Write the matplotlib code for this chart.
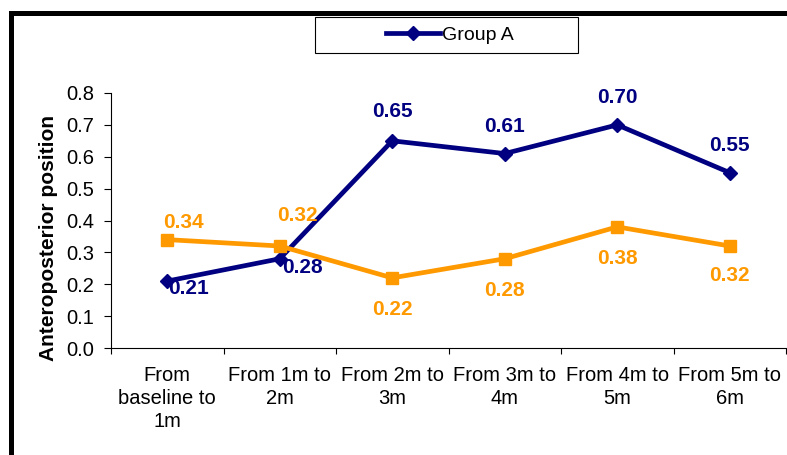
import matplotlib
matplotlib.use("Agg")
import matplotlib.pyplot as plt
from matplotlib.patches import Rectangle

plt.rcParams['font.family'] = ['Liberation Sans', 'DejaVu Sans']

# dados do gráfico
categorias = ["From\nbaseline to\n1m", "From 1m to\n2m", "From 2m to\n3m",
              "From 3m to\n4m", "From 4m to\n5m", "From 5m to\n6m"]
grupo_a = [0.21, 0.28, 0.65, 0.61, 0.70, 0.55]
grupo_b = [0.34, 0.32, 0.22, 0.28, 0.38, 0.32]
rotulo_y = "Anteroposterior position"

# deslocamento dos rótulos (pontos)
desloc_a = [(15, -5), (16, -6), (0, 21), (0, 19.5), (0, 20), (0, 19.5)]
desloc_b = [(12, 12), (13, 22), (0, -23), (0, -22.5), (0, -22.5), (0, -21.5)]

azul = "#000080"
laranja = "#FF9900"

fig = plt.figure(figsize=(7.87, 4.55), dpi=100)
ax = fig.add_axes([111 / 787, 1 - 348 / 455, 675 / 787, 255 / 455])

x = list(range(len(categorias)))
ax.plot(x, grupo_a, color=azul, lw=3.4, marker='D', ms=7, label="Group A", zorder=3)
ax.plot(x, grupo_b, color=laranja, lw=3.4, marker='s', ms=9, zorder=4)

for xi, v, d in zip(x, grupo_a, desloc_a):
    ax.annotate(f"{v:.2f}", (xi, v), xytext=d, textcoords="offset points",
                ha='center', va='center', color=azul, fontsize=15, fontweight='bold')
for xi, v, d in zip(x, grupo_b, desloc_b):
    ax.annotate(f"{v:.2f}", (xi, v), xytext=d, textcoords="offset points",
                ha='center', va='center', color=laranja, fontsize=15, fontweight='bold')

# eixos
ax.set_xlim(-0.5, len(categorias) - 0.5)
ax.set_ylim(0, 0.8)
ax.set_yticks([i / 10 for i in range(9)])
ax.set_yticklabels([f"{i / 10:.1f}" for i in range(9)], fontsize=14.5)
ax.set_xticks(x)
ax.set_xticklabels(categorias, fontsize=14.5, va='top', linespacing=1.25)
ax.set_xticks([i - 0.5 for i in range(len(categorias) + 1)], minor=True)
ax.tick_params(axis='x', which='major', length=0, pad=13)
ax.tick_params(axis='x', which='minor', length=4, width=0.8, direction='out')
ax.tick_params(axis='y', length=5, width=0.8, direction='out', pad=7)
for lado in ['top', 'right']:
    ax.spines[lado].set_visible(False)
for lado in ['left', 'bottom']:
    ax.spines[lado].set_linewidth(0.8)

ax.set_ylabel(rotulo_y, fontsize=15, fontweight='bold')
ax.yaxis.set_label_coords(-0.078, 0.43)

# legenda com caixa
caixa = Rectangle((315 / 787, 1 - 53 / 455), 263 / 787, 36 / 455, transform=fig.transFigure,
                  facecolor='white', edgecolor='black', lw=0.8)
fig.patches.append(caixa)
fig.legend(loc='center', bbox_to_anchor=(450 / 787, 1 - 35 / 455), frameon=False,
           fontsize=14, handlelength=2.8, handletextpad=0.1, borderpad=0)

# moldura preta
moldura = Rectangle((10.5 / 787, -0.5), 2, 0.5 + 1 - 12.5 / 455, transform=fig.transFigure,
                    facecolor='none', edgecolor='black', lw=3.6, clip_on=False)
fig.patches.append(moldura)

fig.savefig("out.png", dpi=100)
